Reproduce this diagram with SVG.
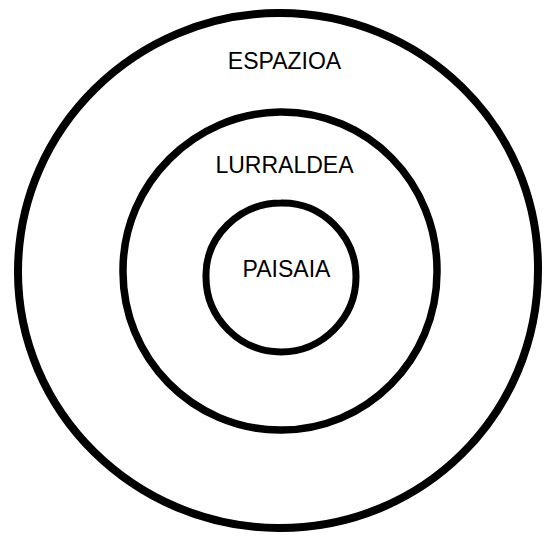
<svg xmlns="http://www.w3.org/2000/svg" width="546" height="538" viewBox="0 0 546 538">
  <style>
    .ring { fill: none; stroke: #000; stroke-linecap: round; stroke-linejoin: round; }
    .label { font-family: "Liberation Sans", Arial, sans-serif; font-size: 23px; fill: #000; text-anchor: middle; }
  </style>
  <rect x="0" y="0" width="546" height="538" fill="#fff"/>
  <g id="espazioa">
    <path class="ring" stroke-width="8" d="M 278 13 C 420 12 539 125 538 270 C 538 415 422 529 278 528 C 135 527 17 412 18 270 C 19 128 136 14 278 13 Z"/>
    <text class="label" x="284.5" y="69">ESPAZIOA</text>
  </g>
  <g id="lurraldea">
    <path class="ring" stroke-width="7.5" d="M 280 112 C 368 111 438 183 437 272 C 437 360 366 431 280 430 C 193 430 122 358 123 270 C 123 183 195 113 280 112 Z"/>
    <text class="label" x="284.5" y="173">LURRALDEA</text>
  </g>
  <g id="paisaia">
    <path class="ring" stroke-width="7" d="M 281 203 C 322 202 356 236 356 277 C 356 318 322 352 281 352 C 240 352 206 318 206 277 C 205 236 240 203 281 203 Z"/>
    <text class="label" x="286.5" y="277">PAISAIA</text>
  </g>
</svg>
